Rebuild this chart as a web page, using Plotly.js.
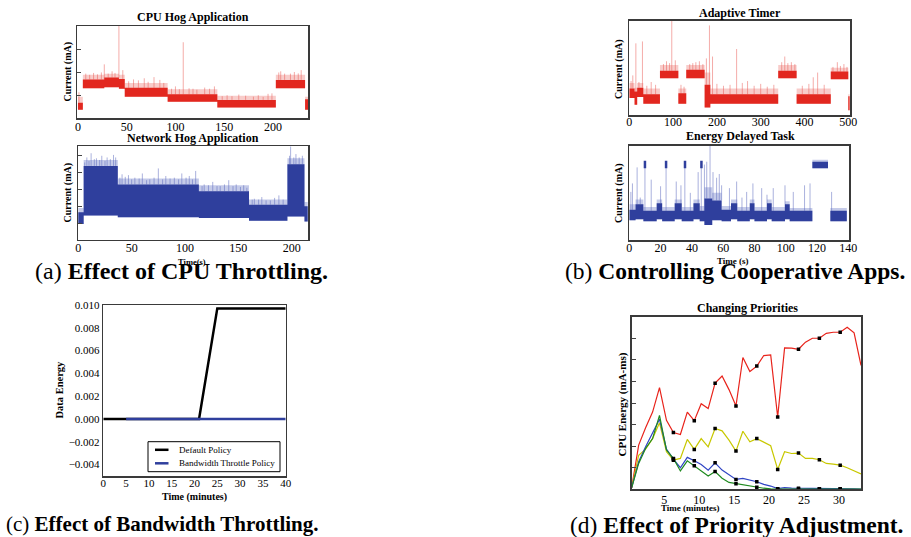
<!DOCTYPE html>
<html><head><meta charset="utf-8">
<script src="https://cdn.plot.ly/plotly-3.0.1.min.js"></script>
<style>html,body{margin:0;padding:0;background:#fff}#chart{width:911px;height:537px}</style>
</head><body><div id="chart"></div>
<script>
// ---------- (a) CPU Hog Application: current trace as level segments ----------
const cpuStart  = [0, 5, 27, 42, 48, 92, 143, 203, 233];
const cpuEnd    = [5, 27, 42, 48, 92, 143, 203, 233, 236];
const cpuLow    = [0.40, 1.32, 1.36, 1.30, 0.96, 0.74, 0.49, 1.32, 0.40];
const cpuHigh   = [0.70, 1.70, 1.78, 1.72, 1.34, 1.06, 0.82, 1.68, 0.85];
const cpuFringe = [0.95, 1.90, 1.95, 1.90, 1.55, 1.28, 1.00, 1.90, 0.95];
const cpuSpikeX = [1, 8, 12, 16, 20, 24, 27, 31, 35, 38, 42, 46, 52, 57, 62, 68, 72, 78, 84, 88, 96, 100, 104, 108, 114, 118, 122, 130, 135, 140, 148, 153, 158, 165, 172, 180, 185, 190, 195, 199, 206, 208, 212, 218, 222, 226, 229];
const cpuSpikeY = [1.15, 1.95, 1.90, 1.98, 1.92, 2.00, 2.35, 1.95, 2.05, 1.98, 4.00, 2.10, 1.62, 1.70, 1.66, 1.75, 1.60, 1.80, 1.68, 1.55, 1.30, 1.40, 1.28, 3.30, 1.32, 1.30, 1.26, 1.35, 1.30, 1.40, 0.98, 1.02, 0.98, 1.05, 1.00, 0.96, 1.02, 0.95, 1.08, 1.10, 2.00, 2.05, 1.95, 1.95, 2.02, 1.96, 2.10];

// ---------- (a) Network Hog Application ----------
const netStart  = [0, 5, 37, 113, 160, 196, 212];
const netEnd    = [5, 37, 113, 160, 196, 212, 215];
const netLow    = [0.95, 1.45, 1.35, 1.30, 1.15, 1.40, 1.10];
const netHigh   = [1.65, 4.40, 3.30, 2.90, 2.10, 4.50, 2.00];
const netFringe = [1.90, 4.75, 3.65, 3.25, 2.40, 4.85, 2.25];
const netSpikeX = [6, 8, 10, 12, 15, 17, 20, 22, 25, 27, 30, 33, 35, 39, 41, 44, 47, 50, 53, 57, 60, 64, 67, 71, 75, 79, 82, 86, 90, 94, 97, 101, 104, 107, 110, 116, 118, 122, 126, 130, 133, 137, 141, 145, 148, 152, 155, 158, 163, 165, 169, 172, 176, 180, 184, 188, 192, 198, 199, 202, 204, 207, 210];
const netSpikeY = [4.6, 4.9, 4.7, 5.15, 4.8, 4.85, 4.75, 5.0, 4.7, 4.9, 4.8, 5.05, 4.9, 3.7, 3.9, 3.75, 3.85, 3.6, 3.7, 3.65, 3.95, 3.55, 3.6, 3.7, 4.25, 3.6, 3.8, 3.65, 3.7, 3.6, 3.95, 3.7, 3.8, 3.6, 4.1, 3.2, 3.3, 3.25, 3.45, 3.2, 3.2, 3.3, 3.55, 3.2, 3.3, 3.15, 3.25, 3.1, 2.4, 2.45, 2.4, 2.55, 2.35, 2.35, 2.5, 2.65, 2.4, 5.0, 5.55, 4.9, 5.1, 4.9, 5.0];

// ---------- (b) Adaptive Timer ----------
const adStart  = [0, 12, 18, 32, 70, 112, 130, 172, 185, 340, 382, 460, 500];
const adEnd    = [12, 18, 32, 70, 112, 130, 172, 185, 340, 382, 460, 500, 503];
const adLow    = [18, 11, 19, 12, 39, 12, 39, 8, 12, 39, 12, 38, 5];
const adHigh   = [28, 25, 29, 22, 47, 23, 48, 32, 22, 47, 22, 46, 20];
const adFringe = [34, 29, 34, 28, 53, 28, 53, 45, 28, 53, 28, 50, 22];
const adSpikeX = [4, 8, 15, 22, 30, 40, 50, 60, 78, 85, 92, 97, 105, 118, 125, 138, 145, 152, 160, 168, 176, 183, 190, 200, 215, 230, 245, 258, 270, 285, 300, 315, 330, 348, 355, 362, 370, 378, 395, 410, 420, 430, 445, 465, 475, 482, 490, 497];
const adSpikeY = [36, 42, 76, 35, 78, 31, 35, 32, 54, 57, 55, 100, 58, 32, 30, 54, 55, 56, 57, 54, 60, 95, 62, 33, 31, 32, 70, 34, 36, 31, 33, 30, 32, 56, 62, 55, 56, 54, 31, 33, 40, 45, 32, 51, 56, 52, 54, 51];

// ---------- (b) Energy Delayed Task ----------
const edStart  = [0, 4, 9, 17.5, 21, 29, 33.5, 41, 45, 48, 53, 59, 65, 69, 77, 80, 88, 91, 99.5, 102.5, 117, 128.5];
const edEnd    = [4, 9, 17.5, 21, 29, 33.5, 41, 45, 48, 53, 59, 65, 69, 77, 80, 88, 91, 99.5, 102.5, 117, 127, 139];
const edLow    = [21, 22, 20, 22, 20, 22, 20, 22, 20, 16, 21, 20, 22, 20, 22, 20, 22, 20, 22, 20, 76, 20];
const edHigh   = [32, 38, 31, 39, 31, 39, 31, 39, 31, 44, 42, 32, 39, 31, 39, 31, 39, 31, 38, 31, 83, 31];
const edFringe = [38, 43, 35, 43, 35, 43, 35, 43, 36, 56, 50, 36, 43, 35, 43, 35, 43, 35, 41, 34, 85, 34];
const edBlobStart = [9.2, 22.7, 34.8, 45.3];
const edBlobEnd   = [10.8, 24.3, 36.4, 46.9];
const edBlobLow   = [76, 76, 76, 76];
const edBlobHigh  = [84, 84, 84, 84];
const edSpikeX = [1, 2, 5, 7, 10, 14, 20, 23.5, 30, 33, 35.5, 39, 44, 46, 48, 49.5, 51.6, 53.5, 55.8, 57.5, 59, 64, 68.6, 72, 75, 79, 84.6, 88, 92, 99.5, 104.8, 112, 115.5, 129.3];
const edSpikeY = [51, 60, 77, 45, 78, 64, 57, 78, 62, 58, 78, 50, 72, 78, 80, 83, 100, 72, 66, 70, 58, 55, 62, 45, 51, 60, 55, 48, 55, 58, 51, 58, 60, 51];

// ---------- (c) Effect of Bandwidth Throttling ----------
const defaultX = [0, 21, 25, 40];
const defaultY = [0, 0, 0.0097, 0.0097];
const throttleX = [5, 40];
const throttleY = [0, 0];
const legendNames = ['Default Policy', 'Bandwidth Throttle Policy'];

// ---------- (d) Changing Priorities ----------
const prioTime = [0.33,1.33,2.32,3.32,4.31,5.31,6.30,7.30,8.29,9.29,10.28,11.28,12.27,13.27,14.26,15.26,16.25,17.25,18.24,19.24,20.23,21.23,22.22,23.22,24.21,25.21,26.20,27.20,28.19,29.19,30.18,31.18,32.17,33.16];
const prioRed    = [0.08,2.05,2.85,3.58,4.71,3.20,2.63,2.54,3.58,3.18,3.97,3.74,4.92,5.25,4.62,3.86,6.11,5.46,5.71,6.20,6.23,3.35,6.55,6.54,6.49,6.82,7.00,7.00,7.23,7.28,7.28,7.51,7.25,5.74];
const prioYellow = [0.08,1.58,1.86,2.35,3.08,1.74,1.35,1.43,2.31,1.85,2.35,1.97,2.82,2.71,2.28,1.77,2.69,2.20,2.35,2.17,2.02,0.92,1.74,1.66,1.68,1.43,1.43,1.37,1.20,1.17,1.12,1.00,0.86,0.71];
const prioBlue   = [0.08,1.28,1.97,2.63,3.25,1.86,1.40,1.00,1.48,1.32,1.15,0.89,1.23,0.89,0.66,0.46,0.51,0.43,0.35,0.23,0.15,0.03,0.08,0.05,0.05,0.04,0.04,0.03,0.03,0.03,0.02,0.02,0.02,0.01];
const prioGreen  = [0.08,1.20,1.89,2.35,3.43,1.82,1.43,0.85,1.32,1.09,0.89,0.62,0.82,0.51,0.32,0.26,0.20,0.14,0.09,0.05,0.02,0.01,0.01,0.01,0.01,0.01,0.01,0.01,0.01,0.01,0.01,0.01,0.01,0.01];

// ---------- helpers ----------
const W = 911, H = 537;
const FONT = 'Liberation Serif, Times New Roman, serif';
function rects(s, e, lo, hi) {
  const x = [], y = [];
  for (let i = 0; i < s.length; i++) {
    x.push(s[i], s[i], e[i], e[i], s[i], null);
    y.push(lo[i], hi[i], hi[i], lo[i], lo[i], null);
  }
  return {x, y};
}
function spikes(sx, sy, s, e, hi) {
  const x = [], y = [];
  for (let i = 0; i < sx.length; i++) {
    let base = hi[0];
    for (let j = 0; j < s.length; j++) if (sx[i] >= s[j] && sx[i] <= e[j]) { base = hi[j]; break; }
    x.push(sx[i], sx[i], null); y.push(base, sy[i], null);
  }
  return {x, y};
}
function fillTrace(r, color, xa, ya) {
  return {type: 'scatter', mode: 'lines', x: r.x, y: r.y, fill: 'toself', fillcolor: color,
          line: {width: 0, color: color}, xaxis: xa, yaxis: ya, hoverinfo: 'skip', showlegend: false};
}
function lineTrace(r, color, w, xa, ya) {
  return {type: 'scatter', mode: 'lines', x: r.x, y: r.y, line: {width: w, color: color},
          xaxis: xa, yaxis: ya, hoverinfo: 'skip', showlegend: false};
}
function trace(s, e, lo, hi, fr, sx, sy, core, light, spike, xa, ya) {
  return [
    fillTrace(rects(s, e, lo, fr), light, xa, ya),
    lineTrace(spikes(sx, sy, s, e, hi), spike, 0.8, xa, ya),
    fillTrace(rects(s, e, lo, hi), core, xa, ya)
  ];
}
const RED = '#e2271f', RED_L = 'rgba(236,110,104,0.35)', RED_S = 'rgba(232,80,74,0.6)';
const BLUE = '#2f3f9d', BLUE_L = 'rgba(110,125,200,0.4)', BLUE_S = 'rgba(90,105,190,0.65)';

const data = [];
data.push(...trace(cpuStart, cpuEnd, cpuLow, cpuHigh, cpuFringe, cpuSpikeX, cpuSpikeY, RED, RED_L, RED_S, 'x', 'y'));
data.push(...trace(netStart, netEnd, netLow, netHigh, netFringe, netSpikeX, netSpikeY, BLUE, BLUE_L, BLUE_S, 'x2', 'y2'));
data.push(...trace(adStart, adEnd, adLow, adHigh, adFringe, adSpikeX, adSpikeY, RED, RED_L, RED_S, 'x3', 'y3'));
data.push(...trace(edStart, edEnd, edLow, edHigh, edFringe, edSpikeX, edSpikeY, BLUE, BLUE_L, BLUE_S, 'x4', 'y4'));
data.push(fillTrace(rects(edBlobStart, edBlobEnd, edBlobLow, edBlobHigh), BLUE, 'x4', 'y4'));

data.push({type: 'scatter', mode: 'lines', name: legendNames[0], x: defaultX, y: defaultY,
  line: {color: '#000000', width: 2.5}, xaxis: 'x5', yaxis: 'y5', showlegend: false});
data.push({type: 'scatter', mode: 'lines', name: legendNames[1], x: throttleX, y: throttleY,
  line: {color: '#2f3f9d', width: 2.5}, xaxis: 'x5', yaxis: 'y5', showlegend: false});

const prioSeries = [[prioRed, '#e8231b'], [prioYellow, '#c8c800'], [prioBlue, '#2f44c4'], [prioGreen, '#1f8a1f']];
prioSeries.forEach(([ys, c]) => {
  data.push({type: 'scatter', mode: 'lines', x: prioTime, y: ys, line: {color: c, width: 1.2},
    xaxis: 'x6', yaxis: 'y6', showlegend: false, hoverinfo: 'skip'});
});
prioSeries.forEach(([ys]) => {
  const mx = [], my = [];
  prioTime.forEach((t, i) => { if (i >= 6 && i <= 30 && i % 3 === 0) { mx.push(t); my.push(ys[i]); } });
  data.push({type: 'scatter', mode: 'markers', x: mx, y: my, marker: {color: '#000', size: 3.5, symbol: 'square'},
    xaxis: 'x6', yaxis: 'y6', showlegend: false, hoverinfo: 'skip'});
});

// ---------- layout ----------
const dx = (l, r) => [l / W, r / W];
const dy = (t, b) => [1 - b / H, 1 - t / H];
const frame = {showline: true, mirror: true, linecolor: '#3a3a3a', linewidth: 1.5, zeroline: false, showgrid: false,
  tickfont: {family: FONT, size: 12, color: '#000'}};
function xa(dom, range, extra) { return Object.assign({}, frame, {domain: dom, range: range, ticks: '', ticklabelstandoff: -3}, extra); }
function ya(dom, range, extra) { return Object.assign({}, frame, {domain: dom, range: range, showticklabels: false, ticks: ''}, extra); }

function ann(text, px, py, size, extra) {
  return Object.assign({text: text, xref: 'paper', yref: 'paper', x: px / W, y: 1 - py / H,
    xanchor: 'center', yanchor: 'middle', showarrow: false, font: {family: FONT, size: size, color: '#000'}}, extra || {});
}

// legend for panel (c), drawn in panel (c)'s paper area
const legendShapes = [
  {type: 'rect', xref: 'paper', yref: 'paper', x0: 148 / W, x1: 280 / W, y0: 1 - 471.7 / H, y1: 1 - 441.7 / H,
   line: {color: '#000', width: 1}, fillcolor: '#fff'},
  {type: 'line', xref: 'paper', yref: 'paper', x0: 155 / W, x1: 168.5 / W, y0: 1 - 449.8 / H, y1: 1 - 449.8 / H,
   line: {color: '#000', width: 2.5}},
  {type: 'line', xref: 'paper', yref: 'paper', x0: 155 / W, x1: 168.5 / W, y0: 1 - 463.3 / H, y1: 1 - 463.3 / H,
   line: {color: '#2f3f9d', width: 2.5}}
];

const layout = {
  width: W, height: H, margin: {l: 0, r: 0, t: 0, b: 0}, paper_bgcolor: '#fff', plot_bgcolor: '#fff',
  font: {family: FONT, color: '#000'}, showlegend: false,
  xaxis:  xa(dx(77, 308), [-1, 236], {anchor: 'y', tickvals: [0, 50, 100, 150, 200]}),
  yaxis:  ya(dy(26, 118), [0.04, 4], {anchor: 'x', tickvals: [1, 2, 3], ticks: 'inside', ticklen: 4}),
  xaxis2: xa(dx(78, 308), [-0.3, 215.3], {anchor: 'y2', tickvals: [0, 50, 100, 150, 200]}),
  yaxis2: ya(dy(146, 239.5), [0.03, 5.58], {anchor: 'x2', tickvals: [1, 2, 3, 4, 5], ticks: 'inside', ticklen: 4}),
  xaxis3: xa(dx(629.3, 850), [0, 503.9], {anchor: 'y3', tickvals: [0, 100, 200, 300, 400, 500], ticklabelstandoff: -5}),
  yaxis3: ya(dy(20.7, 115), [0, 100], {anchor: 'x3'}),
  xaxis4: xa(dx(629.3, 849.3), [0, 140.6], {anchor: 'y4', tickvals: [0, 20, 40, 60, 80, 100, 120, 140], ticklabelstandoff: -4}),
  yaxis4: ya(dy(145.7, 240), [0, 100], {anchor: 'x4'}),
  xaxis5: xa(dx(103.3, 285.7), [0, 40], {anchor: 'y5', tickvals: [0, 5, 10, 15, 20, 25, 30, 35, 40], ticklabelstandoff: -4,
    tickfont: {family: FONT, size: 11, color: '#000'}}),
  yaxis5: Object.assign({}, frame, {domain: dy(305, 476), range: [-0.005, 0.010], anchor: 'x5', ticks: '',
    tickvals: [-0.004, -0.002, 0, 0.002, 0.004, 0.006, 0.008, 0.010], tickformat: '.3f',
    tickfont: {family: FONT, size: 11, color: '#000'}}),
  xaxis6: xa(dx(631.7, 861), [0.33, 33.16], {anchor: 'y6', tickvals: [5, 10, 15, 20, 25, 30], ticklabelstandoff: -1}),
  yaxis6: ya(dy(316.7, 489.3), [0, 8], {anchor: 'x6', tickvals: [1, 2, 3, 4, 5, 6, 7], ticks: 'inside', ticklen: 4}),
  shapes: legendShapes,
  annotations: [
    ann('<b>CPU Hog Application</b>', 193, 17, 12),
    ann('<b>Network Hog Application</b>', 193, 137.5, 12),
    ann('<b>Adaptive Timer</b>', 740, 12.7, 12),
    ann('<b>Energy Delayed Task</b>', 740, 136, 12),
    ann('<b>Changing Priorities</b>', 747, 308.3, 12),
    ann('<b>Current (mA)</b>', 67.5, 72, 10, {textangle: -90}),
    ann('<b>Current (mA)</b>', 67.5, 193, 10, {textangle: -90}),
    ann('<b>Current (mA)</b>', 619, 69, 10, {textangle: -90}),
    ann('<b>Current (mA)</b>', 619, 193, 10, {textangle: -90}),
    ann('<b>Data Energy</b>', 58.5, 390, 10.5, {textangle: -90}),
    ann('<b>CPU Energy (mA-ms)</b>', 621.5, 405, 11, {textangle: -90}),
    ann('<b>Time(s)</b>', 192, 262, 8.5),
    ann('<b>Time (s)</b>', 733, 260.5, 9),
    ann('<b>Time (minutes)</b>', 194, 496.7, 10),
    ann('<b>Time (minutes)</b>', 690, 508, 9),
    ann(legendNames[0], 177, 449.8, 9, {xanchor: 'left'}),
    ann(legendNames[1], 177, 463.3, 9, {xanchor: 'left'}),
    ann('(a) <b>Effect of CPU Throttling.</b>', 181.5, 271, 24),
    ann('(b) <b>Controlling Cooperative Apps.</b>', 735, 271, 23.5),
    ann('(c) <b>Effect of Bandwidth Throttling.</b>', 161.5, 524, 21),
    ann('(d) <b>Effect of Priority Adjustment.</b>', 736, 524.5, 23.5)
  ]
};

Plotly.newPlot('chart', data, layout, {displayModeBar: false, staticPlot: true});
</script>
</body></html>
